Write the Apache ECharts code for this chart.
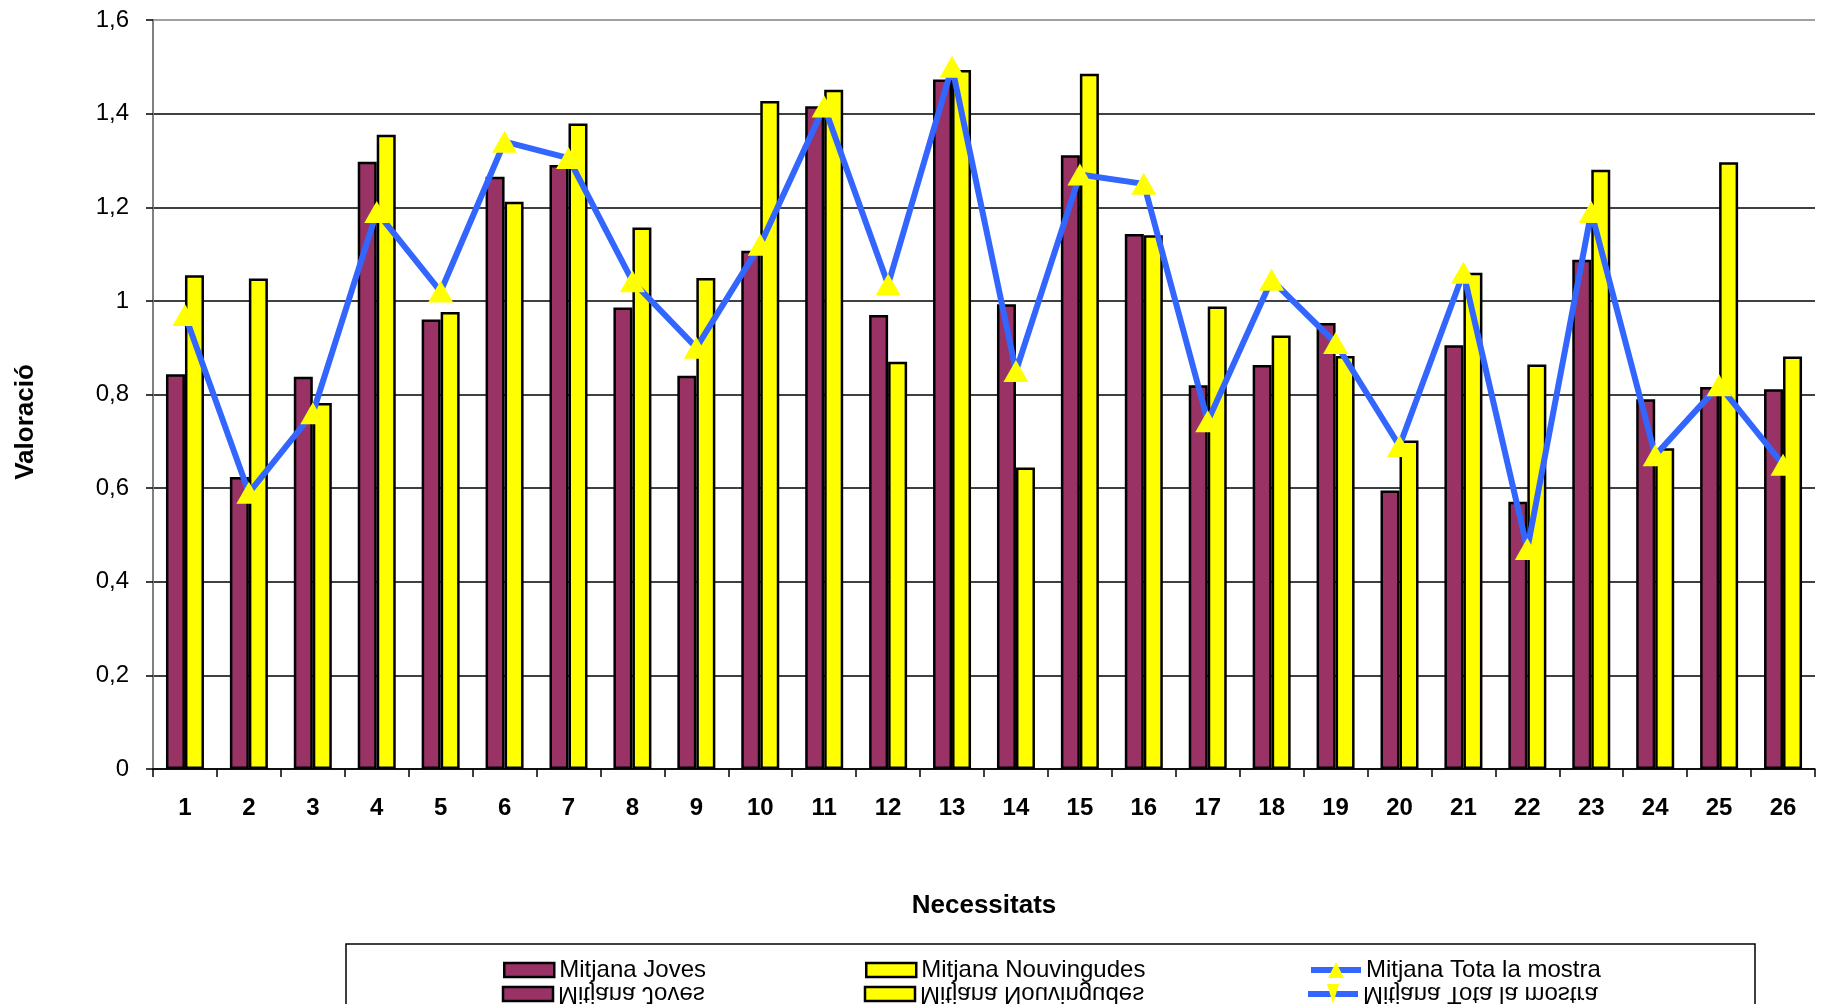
<!DOCTYPE html>
<html>
<head>
<meta charset="utf-8">
<script src="https://cdn.jsdelivr.net/npm/echarts@6/dist/echarts.min.js"></script>
<style>
html,body{margin:0;padding:0;background:#fff;}
#chart{width:1828px;height:1004px;}
</style>
</head>
<body>
<div id="chart"></div>
<script>
// ---- data ----
const categories = ['1','2','3','4','5','6','7','8','9','10','11','12','13','14','15','16','17','18','19','20','21','22','23','24','25','26'];
const seriesNames = ['Mitjana Joves', 'Mitjana Nouvingudes', 'Mitjana Tota la mostra'];
const joves = [0.843,0.624,0.838,1.297,0.960,1.265,1.290,0.986,0.840,1.107,1.416,0.970,1.473,0.993,1.311,1.143,0.820,0.863,0.953,0.595,0.905,0.571,1.088,0.790,0.816,0.811];
const nouvingudes = [1.055,1.048,0.782,1.355,0.976,1.212,1.379,1.157,1.049,1.427,1.451,0.870,1.493,0.644,1.485,1.140,0.988,0.926,0.882,0.702,1.060,0.864,1.280,0.685,1.296,0.881];
const totaMostra = [0.970,0.590,0.760,1.190,1.020,1.340,1.305,1.042,0.900,1.120,1.415,1.035,1.500,0.850,1.270,1.250,0.743,1.045,0.910,0.690,1.060,0.470,1.190,0.670,0.820,0.650];
const yTicks = [0, 0.2, 0.4, 0.6, 0.8, 1.0, 1.2, 1.4, 1.6];
const xTitle = 'Necessitats';
const yTitle = 'Valoració';

const FONT = '"Liberation Sans", Arial, sans-serif';
const C_JOVES = '#993366', C_NOUV = '#FFFF00', C_LINE = '#3366FF', C_MARK = '#FFFF00';

const chart = echarts.init(document.getElementById('chart'), null, {renderer: 'canvas'});

const legendBase = {
  orient: 'horizontal', top: 958, padding: 0,
  itemWidth: 50, itemHeight: 14, itemGap: 0,
  textStyle: {fontFamily: FONT, fontSize: 24, color: '#000'},
  selectedMode: false
};

// mirrored (reflected) legend seen below the legend box in the reference
const mirrorY = 994;
const mirrorItems = [
  {x: 503, color: C_JOVES, kind: 'bar'},
  {x: 865, color: C_NOUV, kind: 'bar'},
  {x: 1308, color: C_LINE, kind: 'line'}
];
const mirrorGraphics = [];
mirrorItems.forEach((m, i) => {
  if (m.kind === 'bar') {
    mirrorGraphics.push({type: 'rect', z: 5, shape: {x: m.x, y: mirrorY - 7, width: 50, height: 14},
      style: {fill: m.color, stroke: '#000', lineWidth: 2.5}});
  } else {
    mirrorGraphics.push({type: 'line', z: 5, shape: {x1: m.x, y1: mirrorY, x2: m.x + 50, y2: mirrorY},
      style: {stroke: m.color, lineWidth: 6}});
    mirrorGraphics.push({type: 'polygon', z: 6, shape: {points: [[m.x + 19, mirrorY - 10], [m.x + 31, mirrorY - 10], [m.x + 25, mirrorY + 10]]},
      style: {fill: C_MARK}});
  }
  mirrorGraphics.push({type: 'text', z: 5, x: m.x + 55, y: mirrorY, scaleY: -1,
    style: {text: seriesNames[i], font: '24px ' + FONT, fill: '#000', verticalAlign: 'middle', align: 'left'}});
});

const option = {
  backgroundColor: '#ffffff',
  animation: false,
  textStyle: {fontFamily: FONT},
  grid: {left: 153, right: 13, top: 20, bottom: 235, containLabel: false, show: false},
  legend: [
    Object.assign({}, legendBase, {left: 503, icon: 'rect',
      data: [{name: seriesNames[0], itemStyle: {color: C_JOVES, borderColor: '#000', borderWidth: 2.5}}]}),
    Object.assign({}, legendBase, {left: 865, icon: 'rect',
      data: [{name: seriesNames[1], itemStyle: {color: C_NOUV, borderColor: '#000', borderWidth: 2.5}}]}),
    Object.assign({}, legendBase, {left: 1308, itemHeight: 20,
      data: [{name: seriesNames[2], lineStyle: {color: C_LINE, width: 6}, itemStyle: {color: C_MARK, borderWidth: 0}}]})
  ],
  xAxis: {
    type: 'category',
    data: categories,
    boundaryGap: true,
    name: xTitle,
    nameLocation: 'middle',
    nameGap: 124,
    nameTextStyle: {fontFamily: FONT, fontSize: 26, fontWeight: 'bold', color: '#000'},
    axisLine: {show: true, lineStyle: {color: '#000', width: 1.5}},
    axisTick: {show: true, alignWithLabel: false, length: 8, lineStyle: {color: '#000', width: 1.5}},
    axisLabel: {fontFamily: FONT, fontSize: 24, fontWeight: 'bold', color: '#000', margin: 27, interval: 0},
    splitLine: {show: false}
  },
  yAxis: {
    type: 'value',
    min: 0, max: 1.6, interval: 0.2,
    axisLine: {show: true, lineStyle: {color: '#808080', width: 2}},
    axisTick: {show: true, length: 7, lineStyle: {color: '#000', width: 1.5}},
    axisLabel: {
      fontFamily: FONT, fontSize: 24, color: '#000', margin: 24,
      formatter: v => String(+(+v).toFixed(1)).replace('.', ',')
    },
    splitLine: {show: true, lineStyle: {color: ['#000','#000','#000','#000','#000','#000','#000','#000','#808080'], width: 1.5}}
  },
  graphic: [
    {type: 'rect', z: -10, silent: true, shape: {x: 346, y: 944, width: 1409, height: 120},
      style: {fill: '#fff', stroke: '#000', lineWidth: 1.5}},
    {type: 'text', x: 26, y: 422, rotation: Math.PI / 2,
      style: {text: yTitle, font: 'bold 26px ' + FONT, fill: '#000', align: 'center', verticalAlign: 'middle'}}
  ].concat(mirrorGraphics),
  series: [
    {
      name: seriesNames[0], type: 'bar', data: joves,
      barWidth: 19, barGap: '0%',
      itemStyle: {color: C_JOVES, borderColor: '#000', borderWidth: 2.5},
      z: 2
    },
    {
      name: seriesNames[1], type: 'bar', data: nouvingudes,
      barWidth: 19, barGap: '0%',
      itemStyle: {color: C_NOUV, borderColor: '#000', borderWidth: 2.5},
      z: 2
    },
    {
      name: seriesNames[2], type: 'line', data: totaMostra,
      symbol: 'triangle', symbolSize: [25, 22],
      showAllSymbol: true,
      lineStyle: {color: C_LINE, width: 6},
      itemStyle: {color: C_MARK, borderWidth: 0},
      z: 5
    }
  ]
};

chart.setOption(option);
</script>
</body>
</html>
